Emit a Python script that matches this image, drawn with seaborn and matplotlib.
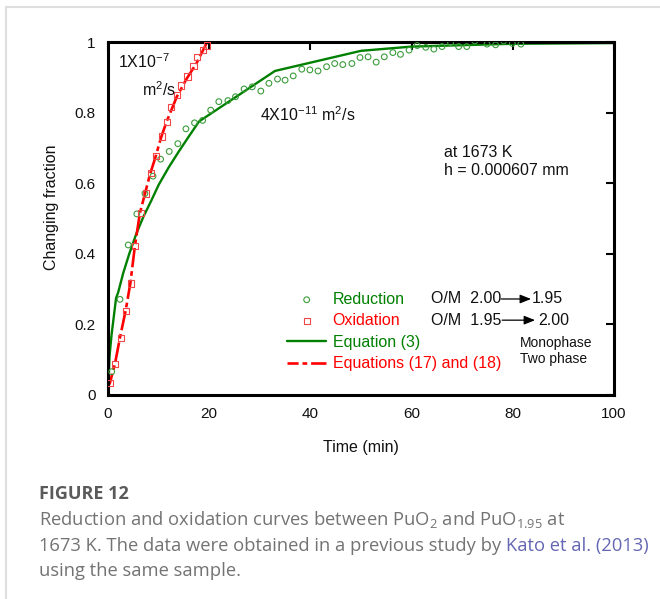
import matplotlib
matplotlib.use("Agg")
import matplotlib.pyplot as plt
import seaborn as sns
from matplotlib.lines import Line2D

# Reduction measurements (O/M 2.00 -> 1.95)
reduction_time = [0.73, 2.37, 4.0, 5.7, 7.3, 8.9, 10.4, 12.1, 13.8, 15.4, 17.1, 18.7,
                  20.3, 21.9, 23.7, 25.2, 26.9, 28.5, 30.2, 31.8, 33.5, 35.0, 36.6, 38.3,
                  39.9, 41.5, 43.2, 44.8, 46.4, 48.2, 49.8, 51.4, 53.0, 54.6, 56.3, 57.8,
                  59.5, 61.1, 62.8, 64.4, 66.0, 67.7, 69.3, 70.9, 72.5, 74.9, 76.6, 78.2,
                  79.9, 81.6]
reduction_frac = [0.066, 0.271, 0.425, 0.513, 0.571, 0.620, 0.668, 0.690, 0.712, 0.754,
                  0.771, 0.778, 0.807, 0.831, 0.834, 0.845, 0.867, 0.873, 0.861, 0.883,
                  0.895, 0.892, 0.904, 0.923, 0.921, 0.918, 0.930, 0.939, 0.936, 0.939,
                  0.956, 0.958, 0.943, 0.958, 0.970, 0.965, 0.977, 0.990, 0.985, 0.980,
                  0.987, 0.998, 0.987, 0.987, 1.003, 0.994, 0.992, 1.003, 0.996, 0.994]

# Oxidation measurements (O/M 1.95 -> 2.00)
oxidation_time = [0.4, 1.4, 2.5, 3.6, 4.5, 5.4, 6.45, 7.5, 8.45, 9.5, 10.6, 11.6, 12.5,
                  13.6, 14.5, 15.7, 16.9, 17.6, 18.7, 19.5]
oxidation_frac = [0.035, 0.087, 0.162, 0.239, 0.316, 0.422, 0.515, 0.571, 0.630, 0.677,
                  0.732, 0.774, 0.815, 0.849, 0.877, 0.902, 0.932, 0.957, 0.977, 0.990]

# Equation (3): monophase diffusion curve, D = 4e-11 m2/s
eq3_time = [0, 0.3, 0.7, 1, 1.6, 2, 3, 4.2, 5.65, 7, 8.6, 10, 12, 14, 16, 18, 33, 50, 60,
            80, 100]
eq3_frac = [0.0, 0.11, 0.17, 0.205, 0.275, 0.29, 0.345, 0.40, 0.459, 0.505, 0.552, 0.595,
            0.645, 0.69, 0.733, 0.775, 0.918, 0.975, 0.987, 0.995, 0.997]

# Equations (17) and (18): two-phase curve, D = 1e-7 m2/s
eq17_time = [0.3, 1.4, 2.4, 3.5, 4.4, 5.3, 6.3, 7.3, 8.3, 9.3, 10.5, 11.6, 13.6, 15.5,
             17.5, 19.6]
eq17_frac = [0.03, 0.09, 0.165, 0.24, 0.315, 0.42, 0.515, 0.57, 0.625, 0.67, 0.73, 0.775,
             0.845, 0.895, 0.94, 1.0]

x_ticks = [0, 20, 40, 60, 80, 100]
y_ticks = [0, 0.2, 0.4, 0.6, 0.8, 1.0]
y_tick_labels = ["0", "0.2", "0.4", "0.6", "0.8", "1"]

GREEN_LINE = "#008000"
GREEN_MARK = "#3c9c3c"
RED_LINE = "#ff0000"
RED_MARK = "#f04848"

sns.set_theme(style="white")
plt.rcParams["font.family"] = ["Liberation Sans", "DejaVu Sans"]
plt.rcParams["lines.scale_dashes"] = False

W, H = 660, 599
fig = plt.figure(figsize=(W / 100, H / 100), dpi=100)
fig.patch.set_facecolor("white")
ax = fig.add_axes([108 / W, 1 - 395 / H, 506 / W, 353 / H])

sns.lineplot(x=eq3_time, y=eq3_frac, ax=ax, color=GREEN_LINE, lw=1.7,
             errorbar=None, label="Equation (3)")
sns.lineplot(x=eq17_time, y=eq17_frac, ax=ax, color=RED_LINE, lw=1.9,
             linestyle=(6, (14, 2.8, 3.4, 2.8)), errorbar=None,
             label="Equations (17) and (18)")
sns.scatterplot(x=reduction_time, y=reduction_frac, ax=ax, marker="o", s=17,
                color=GREEN_MARK, facecolor="none", edgecolor=GREEN_MARK,
                linewidth=0.8, label="Reduction", zorder=3)
sns.scatterplot(x=oxidation_time, y=oxidation_frac, ax=ax, marker="s", s=20,
                color=RED_MARK, facecolor="none", edgecolor=RED_MARK,
                linewidth=0.8, label="Oxidation", zorder=3)

ax.set_xlim(0, 100)
ax.set_ylim(0, 1)
ax.set_xticks(x_ticks)
ax.set_xticklabels([str(v) for v in x_ticks])
ax.set_yticks(y_ticks)
ax.set_yticklabels(y_tick_labels)
ax.tick_params(direction="in", length=6, width=1.5, top=True, right=True,
               labelsize=11, pad=9, colors="black", labelcolor="#111111")
for sp in ax.spines.values():
    sp.set_visible(True)
    sp.set_linewidth(2.2)
    sp.set_color("black")

ax.set_xlabel("Time (min)", fontsize=11.5, color="#111111")
ax.set_ylabel("Changing fraction", fontsize=11.5, color="#111111")
ax.xaxis.set_label_coords(0.5, -0.127)
ax.yaxis.set_label_coords(-0.097, 0.531)

# legend built from the plotted artists
handles = [ax.collections[0], ax.collections[1], ax.lines[0], ax.lines[1]]
labels = ["Reduction", "Oxidation", "Equation (3)", "Equations (17) and (18)"]
leg = ax.legend(handles, labels, loc="upper left", bbox_to_anchor=(0.354, 0.292),
                frameon=False, fontsize=11.5, handlelength=2.45, handletextpad=0.4,
                labelspacing=0.4, borderpad=0, borderaxespad=0, scatterpoints=1)
for txt, c in zip(leg.get_texts(), [GREEN_LINE, RED_LINE, GREEN_LINE, RED_LINE]):
    txt.set_color(c)

txt_kw = dict(fontsize=11.5, color="#111111", va="center", ha="left")
ax.text(2.0, 0.943, r"1X10$\mathregular{^{-7}}$", **txt_kw)
ax.text(6.7, 0.864, r"m$\mathregular{^2}$/s", **txt_kw)
ax.text(30.0, 0.793, r"4X10$\mathregular{^{-11}}$ m$\mathregular{^2}$/s", **txt_kw)
ax.text(66.4, 0.688, "at 1673 K", **txt_kw)
ax.text(66.4, 0.637, "h = 0.000607 mm", **txt_kw)

# O/M transitions with arrows
ax.text(63.8, 0.272, "O/M  2.00", **txt_kw)
ax.text(83.8, 0.272, "1.95", **txt_kw)
ax.text(63.8, 0.212, "O/M  1.95", **txt_kw)
ax.text(85.0, 0.212, "2.00", **txt_kw)
arrow_kw = dict(arrowstyle="-|>,head_length=0.55,head_width=0.22", lw=0.9,
                color="black", shrinkA=0, shrinkB=0)
ax.annotate("", xy=(83.6, 0.272), xytext=(77.7, 0.272), arrowprops=arrow_kw)
ax.annotate("", xy=(84.4, 0.212), xytext=(77.9, 0.212), arrowprops=arrow_kw)
ax.text(81.4, 0.147, "Monophase", fontsize=10, color="#111111", va="center", ha="left")
ax.text(81.4, 0.102, "Two phase", fontsize=10, color="#111111", va="center", ha="left")

# page frame lines
frame_c = "#dedede"
fig.add_artist(Line2D([6 / W, 6 / W], [0, 1 - 7 / H], transform=fig.transFigure,
                      color=frame_c, lw=1.5))
fig.add_artist(Line2D([6 / W, 1], [1 - 7 / H, 1 - 7 / H], transform=fig.transFigure,
                      color=frame_c, lw=1.5))

# caption
cap_font = ["Open Sans", "DejaVu Sans"]
cap_color = "#737373"
cap_size = 13.2
fig.text(39 / W, 1 - 494 / H, "FIGURE 12", fontsize=13, fontweight="bold",
         color="#5a5a5a", family=cap_font, va="center", ha="left")
fig.text(39 / W, 1 - 520 / H,
         r"Reduction and oxidation curves between PuO$\mathregular{_2}$ and PuO$\mathregular{_{1.95}}$ at",
         fontsize=cap_size, color=cap_color, family=cap_font, va="center", ha="left")
line2 = fig.text(39 / W, 1 - 546 / H,
                 "1673 K. The data were obtained in a previous study by ",
                 fontsize=cap_size, color=cap_color, family=cap_font, va="center",
                 ha="left")
fig.canvas.draw()
bb = line2.get_window_extent()
fig.text(bb.x1 / W, 1 - 546 / H, "Kato et al. (2013)", fontsize=cap_size,
         color="#6466b2", family=cap_font, va="center", ha="left")
fig.text(39 / W, 1 - 571 / H, "using the same sample.", fontsize=cap_size,
         color=cap_color, family=cap_font, va="center", ha="left")

fig.savefig("out.png", dpi=100, facecolor="white")
